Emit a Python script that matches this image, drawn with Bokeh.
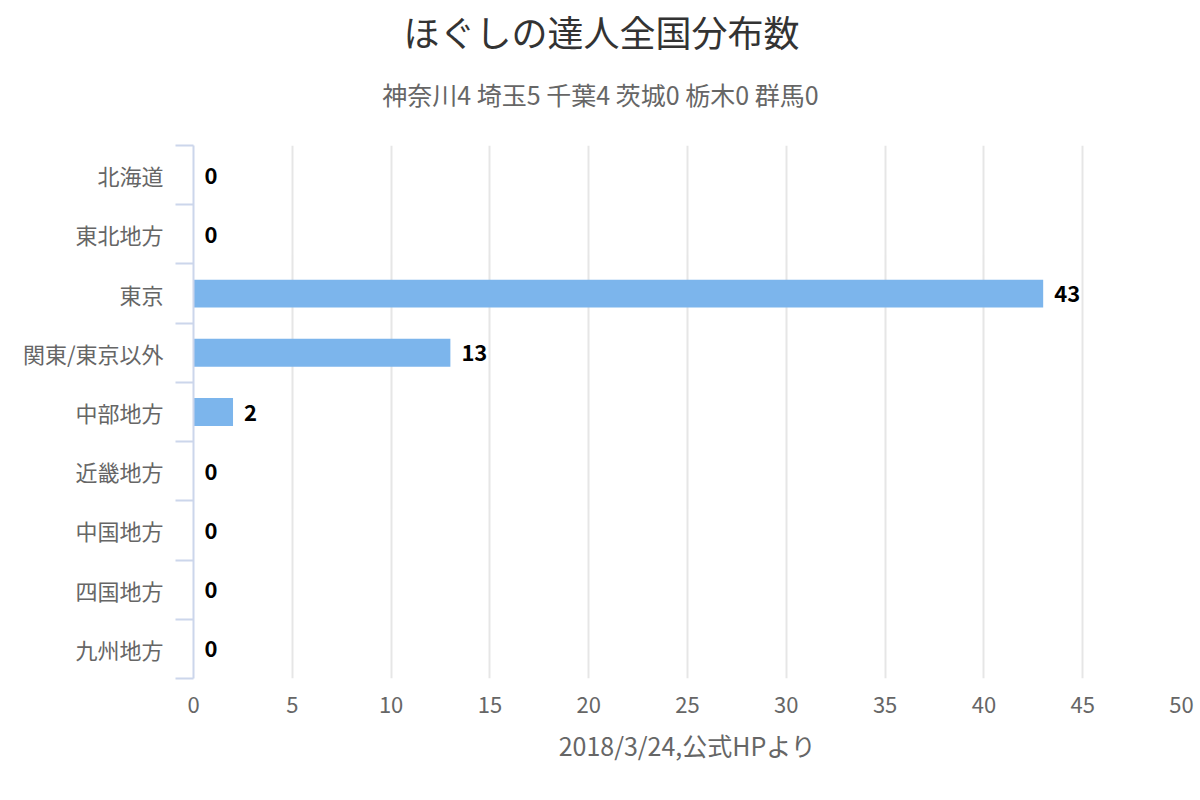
from bokeh.plotting import figure
from bokeh.layouts import column
from bokeh.models import (ColumnDataSource, Range1d, LinearAxis, CategoricalAxis,
                          FixedTicker, Label, FactorRange)
from bokeh.core.properties import value
from bokeh.embed import file_html
from bokeh.resources import INLINE

# ---- data ----
categories = ["北海道", "東北地方", "東京", "関東/東京以外", "中部地方",
              "近畿地方", "中国地方", "四国地方", "九州地方"]
counts = [0, 0, 43, 13, 2, 0, 0, 0, 0]
x_ticks = [0, 5, 10, 15, 20, 25, 30, 35, 40, 45, 50]
title_text = "ほぐしの達人全国分布数"
subtitle_text = "神奈川4 埼玉5 千葉4 茨城0 栃木0 群馬0"
x_title = "2018/3/24,公式HPより"

FONT = "Noto Sans CJK JP"
W = 1200
TITLE_H = 130
MAIN_H = 670
LEFT = 193
RIGHT_PAD = 19

# ---- title block (its frame is aligned with the chart frame by the column) ----
t = figure(width=W, height=TITLE_H, x_range=Range1d(LEFT, W - RIGHT_PAD),
           y_range=Range1d(0, TITLE_H),
           x_axis_location=None, y_axis_location=None,
           output_backend="svg", toolbar_location=None,
           min_border=0, min_border_left=0, min_border_right=0,
           min_border_top=0, min_border_bottom=0)
t.outline_line_color = None
t.grid.visible = False
t.add_layout(Label(x=W / 2 + 1, y=TITLE_H - 30, text=title_text,
                   text_align="center", text_baseline="middle",
                   text_font=FONT, text_font_size="36px", text_color="#333333"))
t.add_layout(Label(x=W / 2, y=TITLE_H - 93, text=subtitle_text,
                   text_align="center", text_baseline="middle",
                   text_font=FONT, text_font_size="25px", text_color="#666666"))

# ---- main chart ----
src = ColumnDataSource(dict(cat=categories, count=counts,
                            label=[str(c) for c in counts]))

p = figure(width=W, height=MAIN_H,
           y_range=FactorRange(factors=list(reversed(categories))),
           x_range=Range1d(0, 50),
           y_axis_location=None,
           output_backend="svg", toolbar_location=None,
           min_border_left=LEFT, min_border_right=RIGHT_PAD,
           min_border_top=15, min_border_bottom=122)
p.outline_line_color = None

for g in p.grid:
    if g.dimension == 1:
        g.visible = False

p.xgrid.ticker = FixedTicker(ticks=x_ticks)
p.xgrid.grid_line_color = "#e6e6e6"
p.xgrid.grid_line_width = 2

# bars
p.hbar(y="cat", right="count", height=0.47, source=src,
       fill_color="#7cb5ec", line_color=None)

# data labels
p.text(x="count", y="cat", text="label", source=src, x_offset=11,
       text_baseline="middle", text_align="left",
       text_font=value(FONT), text_font_size="22px",
       text_font_style="bold", text_color="#000000")

# y tick axis: tick marks on the boundaries between categories
tick_axis = LinearAxis(ticker=FixedTicker(ticks=list(range(len(categories) + 1)),
                                          minor_ticks=[]),
                       major_tick_out=18, major_tick_in=0,
                       minor_tick_out=0, minor_tick_in=0,
                       major_label_text_font_size="0px",
                       major_label_text_color=None,
                       major_label_standoff=0,
                       axis_line_color="#ccd6eb", axis_line_width=2,
                       major_tick_line_color="#ccd6eb", major_tick_line_width=2)
p.add_layout(tick_axis, "left")

cat_axis = CategoricalAxis(major_tick_out=0, major_tick_in=0,
                           axis_line_color=None, major_tick_line_color=None,
                           major_label_text_font=FONT,
                           major_label_text_font_size="22px",
                           major_label_text_color="#666666",
                           major_label_standoff=12)
p.add_layout(cat_axis, "left")

# x axis
xa = p.xaxis[0]
xa.ticker = FixedTicker(ticks=x_ticks, minor_ticks=[])
xa.axis_line_color = None
xa.major_tick_line_color = None
xa.minor_tick_line_color = None
xa.major_tick_out = 0
xa.major_tick_in = 0
xa.major_label_text_font = FONT
xa.major_label_text_font_size = "22px"
xa.major_label_text_color = "#666666"
xa.major_label_standoff = 18
xa.axis_label = x_title
xa.axis_label_text_font = FONT
xa.axis_label_text_font_size = "25px"
xa.axis_label_text_font_style = "normal"
xa.axis_label_text_color = "#666666"
xa.axis_label_standoff = 11

layout = column(t, p, spacing=0)
open("out.html", "w").write(file_html(layout, INLINE))
